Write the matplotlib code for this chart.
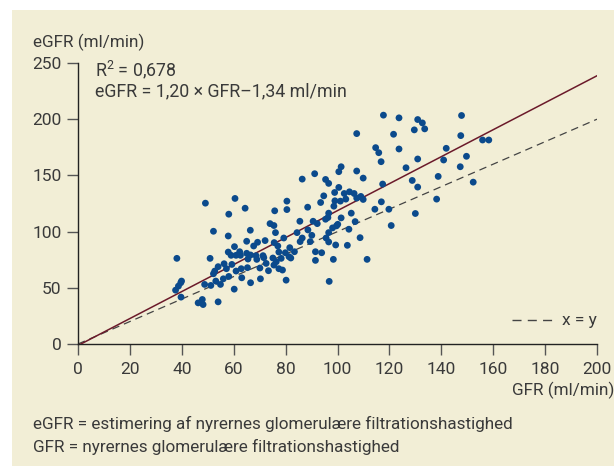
import numpy as np
import matplotlib
matplotlib.use('Agg')
import matplotlib.pyplot as plt
from matplotlib.patches import Rectangle

# maalte GFR (x) og estimeret eGFR (y), aflaest fra figuren
gfr = [38.1, 37.6, 38.7, 39.6, 39.9, 39.7, 46.3, 47.9, 48.2, 49.1, 48.8, 50.9, 51.2, 52.2, 52.2,
       52.7, 53.1, 54.0, 54.0, 54.9, 56.0, 56.3, 57.2, 57.9, 58.1, 57.9, 58.1, 59.0, 59.3, 60.2,
       60.3, 60.5, 60.9, 60.9, 62.3, 62.6, 62.9, 63.1, 64.4, 65.0, 65.0, 65.5, 65.3, 66.4, 66.5,
       66.5, 67.7, 68.6, 68.9, 69.2, 70.1, 70.3, 71.3, 71.6, 72.1, 72.5, 73.4, 74.0, 75.1, 75.5,
       75.5, 75.8, 76.1, 75.6, 76.4, 77.0, 77.4, 77.4, 78.3, 78.8, 79.3, 79.9, 80.2, 80.5, 80.5,
       81.3, 81.6, 82.0, 83.4, 84.4, 85.5, 85.6, 86.4, 86.4, 88.5, 88.6, 89.5, 90.1, 90.6, 91.2,
       91.5, 91.5, 92.2, 93.5, 93.9, 94.7, 95.4, 95.4, 95.6, 96.3, 96.6, 96.6, 96.6, 96.6, 96.8,
       98.1, 98.4, 98.6, 98.9, 99.0, 99.3, 99.6, 100.1, 100.5, 100.5, 101.1, 101.4, 101.4, 102.6, 103.2,
       103.8, 104.4, 104.6, 105.3, 106.4, 106.8, 107.4, 107.4, 107.4, 108.7, 109.0, 109.9, 109.9, 111.4, 114.4,
       114.7, 115.9, 116.8, 116.9, 117.4, 117.7, 119.8, 120.7, 121.6, 123.7, 123.7, 126.4, 128.8, 129.6, 130.0,
       130.9, 130.9, 130.9, 132.7, 133.6, 138.2, 138.8, 140.9, 141.9, 147.3, 147.5, 147.8, 149.7, 152.3, 155.9,
       158.3]
egfr = [76.2, 47.9, 51.5, 54.5, 56.0, 41.7, 36.6, 39.6, 35.1, 125.3, 53.0, 76.2, 52.1, 100.3, 62.5,
        64.9, 56.0, 68.8, 37.5, 53.0, 58.0, 71.4, 67.0, 96.1, 115.5, 81.8, 60.1, 78.9, 70.8, 48.8,
        86.6, 129.5, 78.9, 64.9, 82.1, 78.9, 67.0, 58.9, 120.8, 91.4, 80.7, 75.6, 67.9, 101.2, 79.2,
        54.5, 87.2, 78.6, 75.3, 90.5, 67.6, 58.0, 78.6, 76.8, 92.0, 71.7, 65.2, 107.1, 76.5, 105.4,
        70.2, 118.5, 99.1, 90.2, 73.2, 87.2, 81.8, 67.0, 76.2, 65.8, 94.3, 81.2, 56.8, 127.1, 119.6,
        77.7, 85.7, 76.5, 82.1, 99.1, 109.2, 91.1, 146.7, 94.3, 121.7, 101.5, 91.1, 96.7, 109.2, 151.5,
        82.1, 74.4, 107.1, 125.9, 81.2, 131.8, 146.4, 111.0, 94.3, 112.5, 142.9, 116.4, 99.1, 90.8, 55.7,
        103.3, 75.3, 122.6, 134.8, 127.4, 88.1, 105.1, 106.5, 153.3, 139.3, 127.1, 157.7, 112.2, 133.9, 128.9,
        87.8, 102.1, 135.4, 116.4, 133.9, 108.9, 187.2, 153.9, 129.8, 94.6, 131.3, 147.6, 128.6, 75.3, 119.9,
        174.7, 170.2, 162.2, 126.5, 142.3, 203.6, 119.9, 105.4, 186.6, 201.2, 173.5, 156.8, 145.5, 190.5, 116.1,
        199.7, 164.6, 139.6, 196.7, 191.4, 128.9, 149.1, 163.7, 174.1, 157.7, 185.4, 203.3, 167.0, 144.0, 181.5,
        181.5]

slope = 1.20
intercept = -1.34
x_ticks = [0, 20, 40, 60, 80, 100, 120, 140, 160, 180, 200]
y_ticks = [0, 50, 100, 150, 200, 250]

beige = '#f2eed6'
txt = '#3a3a3a'
plt.rcParams['font.family'] = ['Roboto', 'DejaVu Sans']

fig = plt.figure(figsize=(6.14, 4.66), dpi=100, facecolor='white')
fig.patches.append(Rectangle((12 / 614, 0), 1, 1 - 10 / 466, transform=fig.transFigure,
                             facecolor=beige, edgecolor='none', zorder=-10))

ax = fig.add_axes([78 / 614, 1 - 344 / 466, 519 / 614, 281 / 466])
ax.set_zorder(1)
ax.set_facecolor('none')
ax.set_xlim(0, 200)
ax.set_ylim(0, 250)

# linjer
xl = np.array([0, 200])
ax.plot(xl, xl, ls=(0, (6, 4)), color='#444444', lw=0.9, zorder=2)
ax.plot(xl, slope * xl + intercept, color='#6b1a2a', lw=1.1, zorder=3)
ax.scatter(gfr, egfr, s=24, color='#0b4a8c', edgecolors='none', zorder=4)

for s in ['top', 'right']:
    ax.spines[s].set_visible(False)
for s in ['left', 'bottom']:
    ax.spines[s].set_color('#222222')
    ax.spines[s].set_linewidth(1.0)
ax.set_xticks(x_ticks)
ax.set_yticks(y_ticks)
ax.tick_params(direction='out', length=8, width=1.0, colors='#555555', labelsize=12.5,
               labelcolor=txt)
ax.tick_params(axis='x', pad=5)
ax.tick_params(axis='y', pad=4)

fig.text(33 / 614, 1 - 42 / 466, 'eGFR (ml/min)', fontsize=12.3, color=txt, va='center')
fig.text(614 / 614, 1 - 390 / 466, 'GFR (ml/min)', fontsize=12.3, color=txt, va='center', ha='right')

fig.text(95 / 614, 1 - 70 / 466, r'R$^{\mathregular{2}}$ = 0,678',
         fontsize=12.8, color=txt, va='center')
fig.text(95 / 614, 1 - 91 / 466, 'eGFR = 1,20 × GFR–1,34 ml/min',
         fontsize=12.8, color=txt, va='center')

# forklaring
ax.plot([512 / 614, 552 / 614], [1 - 320 / 466] * 2, transform=fig.transFigure,
        ls=(0, (6.5, 4.5)), color='#444444', lw=1.0, clip_on=False)
fig.text(597 / 614, 1 - 320 / 466, 'x = y', fontsize=12.5, color=txt, va='center', ha='right')

fig.text(33 / 614, 1 - 424 / 466, 'eGFR = estimering af nyrernes glomerulære filtrationshastighed',
         fontsize=12.3, color=txt, va='center')
fig.text(33 / 614, 1 - 447 / 466, 'GFR = nyrernes glomerulære filtrationshastighed',
         fontsize=12.3, color=txt, va='center')

fig.savefig('out.png', dpi=100, facecolor='white')
